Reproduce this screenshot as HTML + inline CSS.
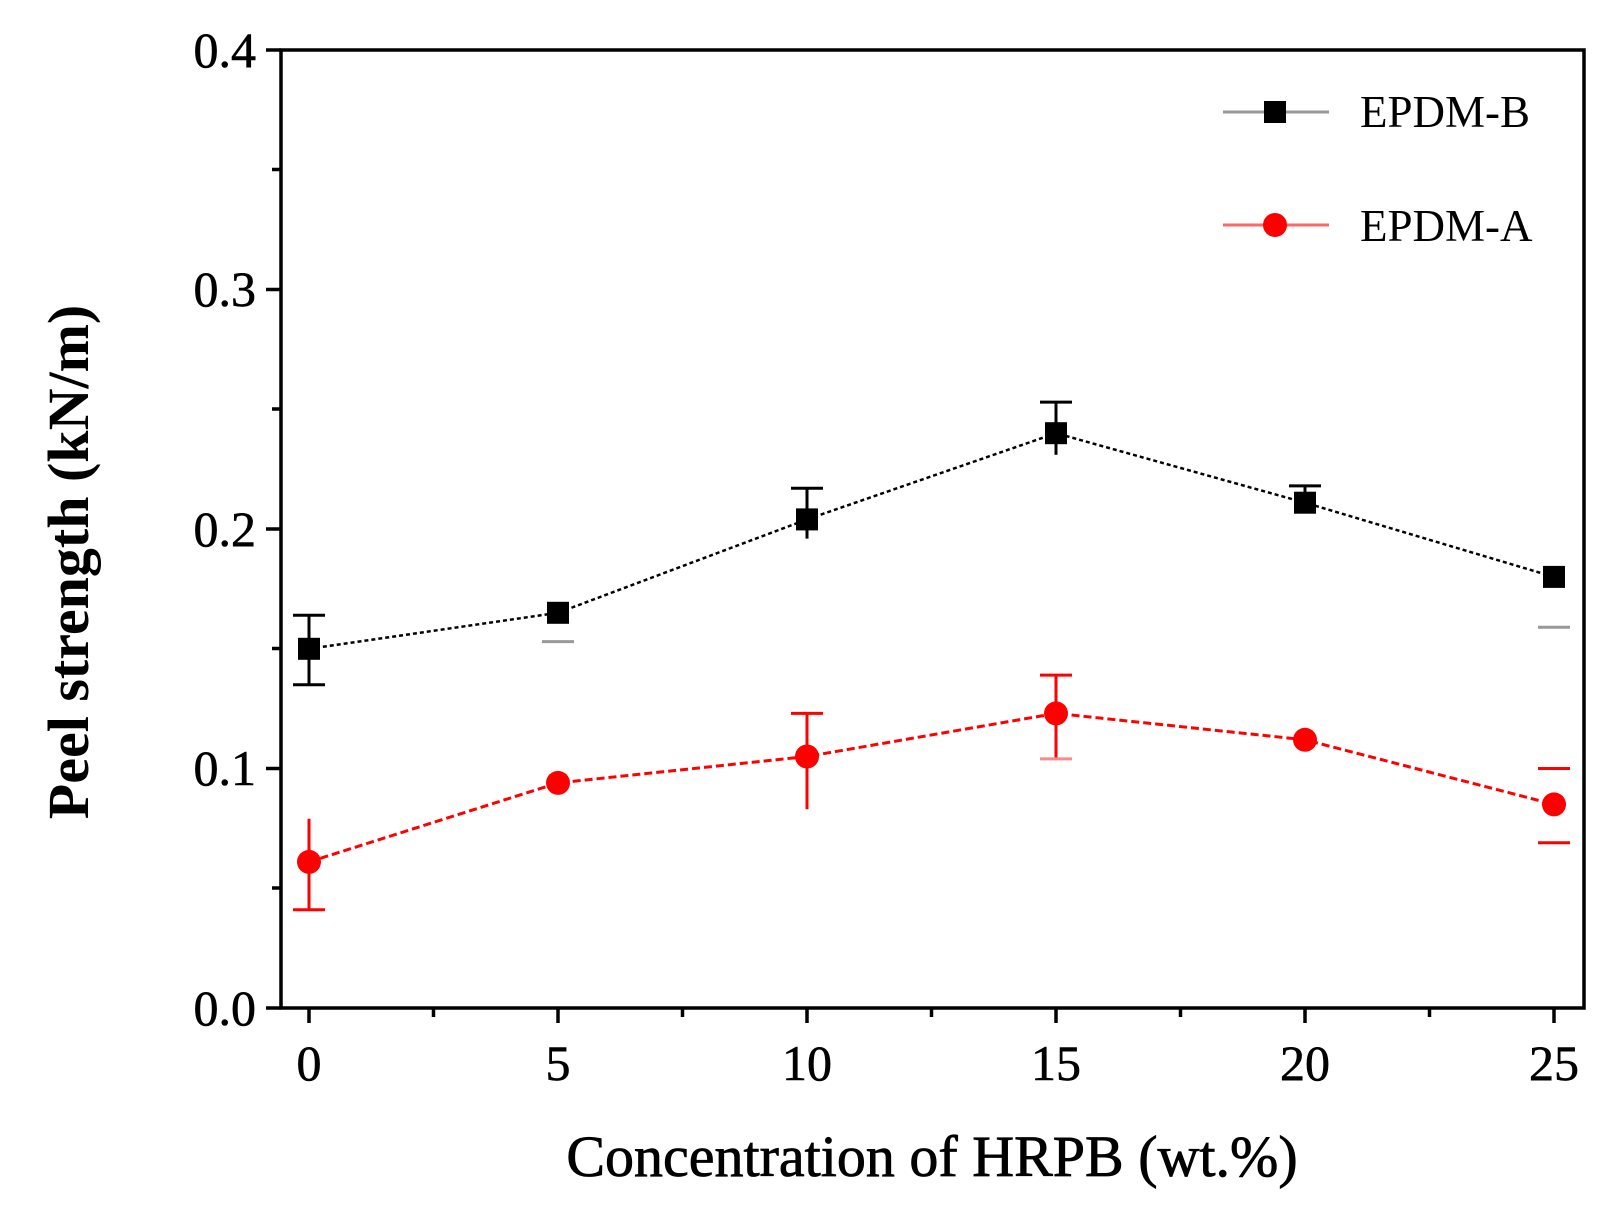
<!DOCTYPE html>
<html><head><meta charset="utf-8"><style>
html,body{margin:0;padding:0;background:#fff;}
svg{display:block;}
text{font-family:"Liberation Serif",serif;fill:#000;}
</style></head><body>
<svg width="1622" height="1221" viewBox="0 0 1622 1221" xmlns="http://www.w3.org/2000/svg">
<rect width="1622" height="1221" fill="#fff"/>
<rect x="281" y="50" width="1303" height="958" fill="none" stroke="#000" stroke-width="3.5"/>
<g stroke="#000" stroke-width="3.5">
<line x1="266" y1="1008" x2="281" y2="1008"/>
<line x1="266" y1="768.5" x2="281" y2="768.5"/>
<line x1="266" y1="529" x2="281" y2="529"/>
<line x1="266" y1="289.5" x2="281" y2="289.5"/>
<line x1="266" y1="50" x2="281" y2="50"/>
<line x1="272" y1="888" x2="281" y2="888"/>
<line x1="272" y1="648.5" x2="281" y2="648.5"/>
<line x1="272" y1="409" x2="281" y2="409"/>
<line x1="272" y1="169.5" x2="281" y2="169.5"/>
<line x1="309" y1="1008" x2="309" y2="1023"/>
<line x1="558" y1="1008" x2="558" y2="1023"/>
<line x1="807" y1="1008" x2="807" y2="1023"/>
<line x1="1056" y1="1008" x2="1056" y2="1023"/>
<line x1="1305" y1="1008" x2="1305" y2="1023"/>
<line x1="1554" y1="1008" x2="1554" y2="1023"/>
<line x1="433.5" y1="1008" x2="433.5" y2="1017"/>
<line x1="682.5" y1="1008" x2="682.5" y2="1017"/>
<line x1="931.5" y1="1008" x2="931.5" y2="1017"/>
<line x1="1180.5" y1="1008" x2="1180.5" y2="1017"/>
<line x1="1429.5" y1="1008" x2="1429.5" y2="1017"/>
</g>
<g font-size="50" text-anchor="end" stroke="#000" stroke-width="0.6">
<text x="256" y="1025">0.0</text>
<text x="256" y="785">0.1</text>
<text x="256" y="546">0.2</text>
<text x="256" y="306">0.3</text>
<text x="256" y="67">0.4</text>
</g>
<g font-size="50" text-anchor="middle" stroke="#000" stroke-width="0.6">
<text x="309" y="1080">0</text>
<text x="558" y="1080">5</text>
<text x="807" y="1080">10</text>
<text x="1056" y="1080">15</text>
<text x="1305" y="1080">20</text>
<text x="1554" y="1080">25</text>
</g>
<text x="932" y="1176" font-size="58" text-anchor="middle" stroke="#000" stroke-width="0.8">Concentration of HRPB (wt.%)</text>
<text transform="translate(88,562) rotate(-90)" font-size="58" font-weight="bold" text-anchor="middle">Peel strength (kN/m)</text>

<polyline points="309,648.8 558,612.8 807,519.4 1056,433.2 1305,502.7 1554,576.9" fill="none" stroke="#000" stroke-width="2.5" stroke-dasharray="4,3"/>
<g stroke="#000" stroke-width="3">
<line x1="309" y1="615.2" x2="309" y2="684.7"/><line x1="293" y1="615.2" x2="325" y2="615.2"/><line x1="293" y1="684.7" x2="325" y2="684.7"/>
<line x1="807" y1="488.3" x2="807" y2="538.6"/><line x1="791" y1="488.3" x2="823" y2="488.3"/>
<line x1="1056" y1="402.1" x2="1056" y2="454.8"/><line x1="1040" y1="402.1" x2="1072" y2="402.1"/>
<line x1="1305" y1="485.9" x2="1305" y2="502"/><line x1="1289" y1="485.9" x2="1321" y2="485.9"/>
</g>
<g stroke="#999" stroke-width="3">
<line x1="542" y1="641.6" x2="574" y2="641.6"/>
<line x1="1538" y1="627.2" x2="1570" y2="627.2"/>
</g>
<g fill="#000">
<rect x="298" y="637.8" width="22" height="22"/>
<rect x="547" y="601.8" width="22" height="22"/>
<rect x="796" y="508.4" width="22" height="22"/>
<rect x="1045" y="422.2" width="22" height="22"/>
<rect x="1294" y="491.7" width="22" height="22"/>
<rect x="1543" y="565.9" width="22" height="22"/>
</g>

<polyline points="309,861.9 558,782.9 807,756.5 1056,713.4 1305,739.8 1554,804.4" fill="none" stroke="#f00" stroke-width="3" stroke-dasharray="8,4"/>
<g stroke="#f00" stroke-width="3">
<line x1="309" y1="818.8" x2="309" y2="909.8"/><line x1="293" y1="909.8" x2="325" y2="909.8"/>
<line x1="807" y1="713.4" x2="807" y2="809.2"/><line x1="791" y1="713.4" x2="823" y2="713.4"/>
<line x1="1056" y1="675.1" x2="1056" y2="758.9"/><line x1="1040" y1="675.1" x2="1072" y2="675.1"/>
<line x1="1538" y1="768.5" x2="1570" y2="768.5"/><line x1="1538" y1="842.7" x2="1570" y2="842.7"/>
</g>
<line x1="1040" y1="758.9" x2="1072" y2="758.9" stroke="#f88" stroke-width="3"/>
<g fill="#f00">
<circle cx="309" cy="861.9" r="12"/>
<circle cx="558" cy="782.9" r="12"/>
<circle cx="807" cy="756.5" r="12"/>
<circle cx="1056" cy="713.4" r="12"/>
<circle cx="1305" cy="739.8" r="12"/>
<circle cx="1554" cy="804.4" r="12"/>
</g>

<line x1="1223" y1="112" x2="1329" y2="112" stroke="#999" stroke-width="3"/>
<rect x="1264" y="101" width="22" height="22" fill="#000"/>
<text x="1360" y="127" font-size="45">EPDM-B</text>
<line x1="1223" y1="225" x2="1329" y2="225" stroke="#f66" stroke-width="3"/>
<circle cx="1275" cy="225" r="12" fill="#f00"/>
<text x="1360" y="241" font-size="45">EPDM-A</text>
</svg>
</body></html>
